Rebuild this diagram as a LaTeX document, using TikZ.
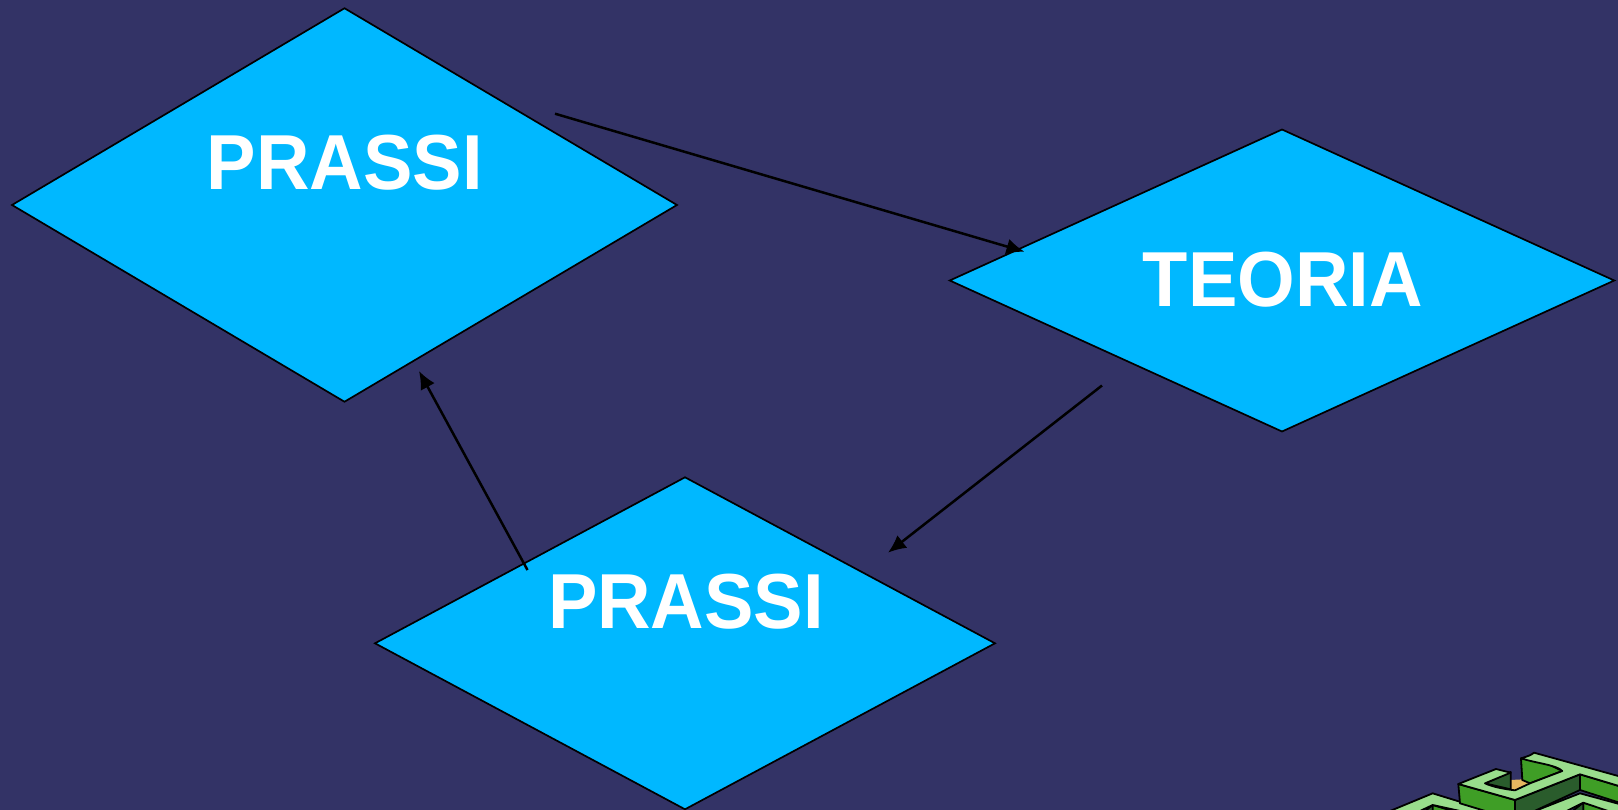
\documentclass[tikz,border=0pt]{standalone}
\usepackage{fontspec}
\setmainfont{Liberation Sans}
\usetikzlibrary{shapes.geometric,arrows.meta}
\definecolor{bgc}{HTML}{333366}
\definecolor{skyc}{HTML}{00B8FF}
\definecolor{lgreen}{HTML}{99DD8C}
\definecolor{mgreen}{HTML}{3F9E26}
\definecolor{dgreen}{HTML}{2A5C2C}
\definecolor{orangec}{HTML}{E6B65F}
\tikzset{
  rhomb/.style={shape=diamond,draw=black,fill=skyc,line width=1.7pt,inner sep=0pt,outer sep=0pt},
  lab/.style={text=white,font=\fontsize{78}{78}\selectfont\bfseries,anchor=base,inner sep=0pt,outer sep=0pt},
  flow/.style={draw=black,line width=2.5pt,-{Latex[length=18pt,width=16pt]},shorten >=0pt},
  maze/.style={draw=black,line width=1.8pt,line join=round},
}
\begin{document}
\begin{tikzpicture}[x=1pt,y=-1pt]
\useasboundingbox (0,0) rectangle (1618,810);
\fill[bgc] (0,0) rectangle (1618,810);
\node[rhomb,minimum width=665pt,minimum height=393.5pt] (d1) at (344.5,205) {};
\node[rhomb,minimum width=664.5pt,minimum height=302pt] (d2) at (1282,280.5) {};
\node[rhomb,minimum width=620pt,minimum height=332pt] (d3) at (685,643.3) {};
\node[lab] (t1) at (344.8,189.3) {\scalebox{0.95}[1]{PRASSI}};
\node[lab] (t2) at (1282.8,306.5) {\scalebox{0.95}[1]{TEORIA}};
\node[lab] (t3) at (686,628) {\scalebox{0.95}[1]{PRASSI}};
\coordinate (a1s) at (555,113.7);
\coordinate (a1e) at (1024.5,251.7);
\coordinate (a2s) at (1102,385.5);
\coordinate (a2e) at (888,552.7);
\coordinate (a3s) at (527.5,570);
\coordinate (a3e) at (419,371);
\draw[flow] (a1s) -- (a1e);
\draw[flow] (a2s) -- (a2e);
\draw[flow] (a3s) -- (a3e);
\begin{scope}
\clip (1360,730) rectangle (1618,810);
\begin{scope}[shift={(1360,730)},x=0.3333pt,y=-0.3333pt,every path/.append style={maze}]
% lower-left band
\draw[fill=mgreen] (218,225) -- (400,280) -- (200,280) -- cycle;
\draw[fill=dgreen] (218,225) -- (218,280) -- (150,280) -- cycle;
\draw[fill=lgreen] (90,243) -- (218,190) -- (390,243) -- (300,243) -- (218,225) -- (180,243) -- cycle;
% lower-right band
\draw[fill=mgreen] (670,218) -- (800,255) -- (800,280) -- (670,280) -- cycle;
\draw[fill=dgreen] (670,218) -- (670,280) -- (590,280) -- cycle;
\draw[fill=lgreen] (525,243) -- (660,190) -- (800,228) -- (800,262) -- (670,218) -- (620,243) -- cycle;
% outer walls
\draw[fill=mgreen] (295,162) -- (300,220) -- (465,270) -- (465,210) -- cycle;
\draw[fill=dgreen] (465,210) -- (660,133) -- (660,180) -- (465,270) -- cycle;
\draw[fill=mgreen] (660,133) -- (800,175) -- (800,225) -- (660,180) -- cycle;
% pocket
\draw[fill=orangec,draw=none] (452,150) -- (490,148) -- (515,160) -- (465,182) -- (452,178) -- cycle;
\draw[fill=dgreen] (375,160) -- (452,126) -- (452,178) -- cycle;
\draw[fill=mgreen] (483,85) -- (487,150) -- (510,160) -- (607,123) -- (560,100) -- cycle;
% top surface
\draw[fill=lgreen] (295,162) -- (408,117) -- (452,128) -- (375,160)
  .. controls (400,172) and (440,178) .. (465,181)
  -- (510,160) -- (607,123) .. controls (590,105) and (530,100) .. (483,85)
  .. controls (500,80) and (515,75) .. (522,68) -- (800,145) -- (800,175) -- (660,133) -- (465,210) -- cycle;
\end{scope}
\end{scope}
\end{tikzpicture}
\end{document}
